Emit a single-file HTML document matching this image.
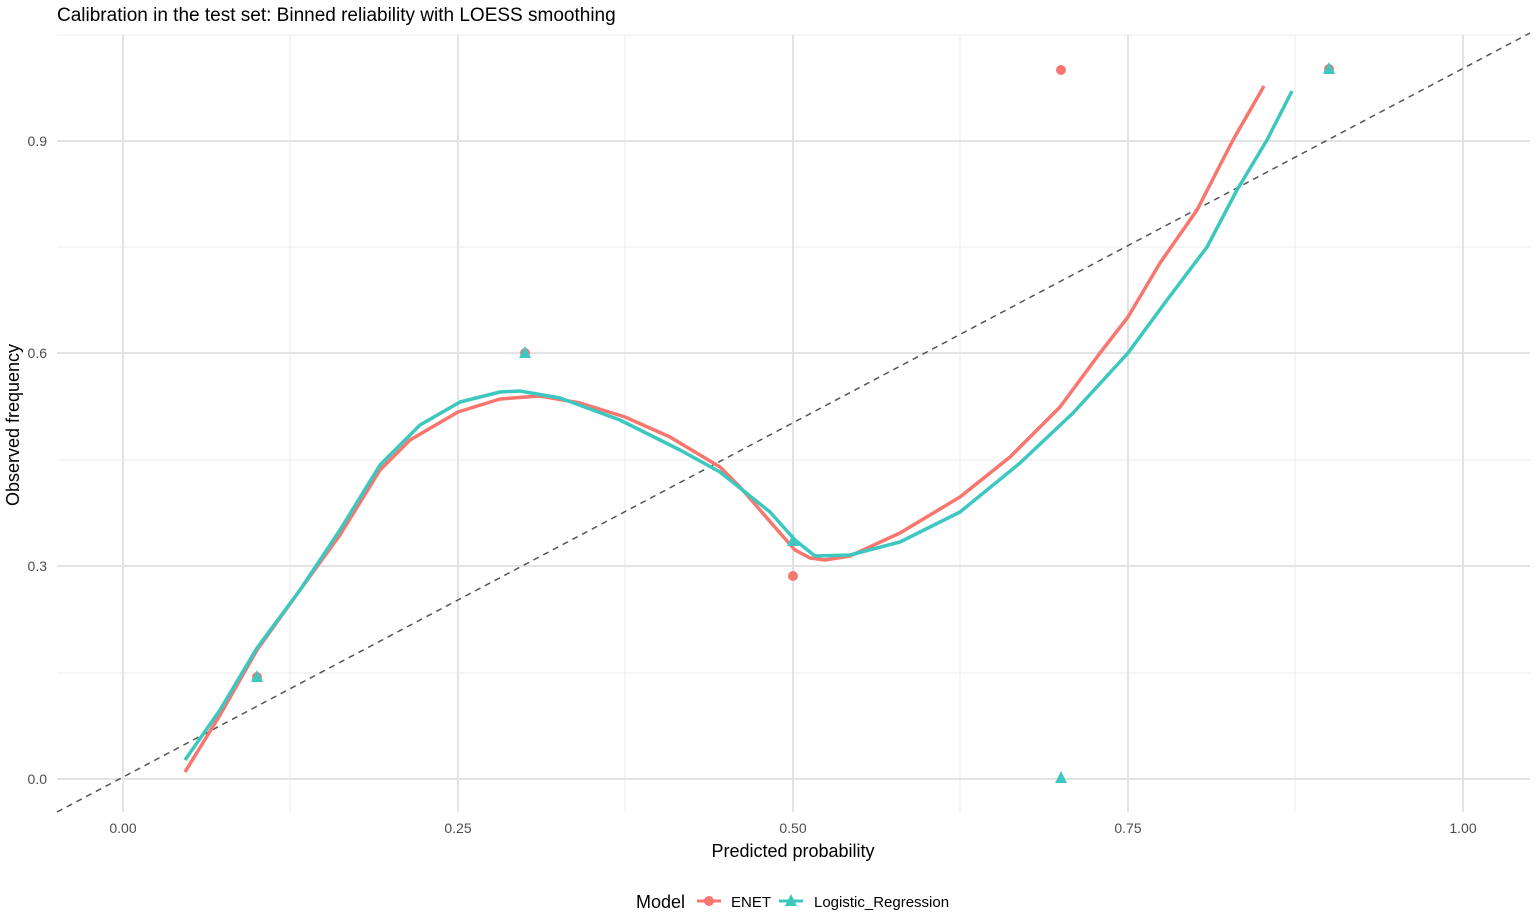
<!DOCTYPE html>
<html><head><meta charset="utf-8"><style>
body{margin:0;background:#fff;}
svg{display:block;font-family:"Liberation Sans",sans-serif;}
</style></head><body>
<svg width="1535" height="915" viewBox="0 0 1535 915">
<rect width="1535" height="915" fill="#fff"/>
<text x="57" y="21" font-size="19" fill="#000">Calibration in the test set: Binned reliability with LOESS smoothing</text>
<g stroke="#ebebeb" stroke-width="1">
<line x1="57" x2="1530" y1="673" y2="673"/><line x1="57" x2="1530" y1="460" y2="460"/><line x1="57" x2="1530" y1="247" y2="247"/><line x1="57" x2="1530" y1="35" y2="35"/>
<line x1="290" x2="290" y1="35" y2="812"/><line x1="625" x2="625" y1="35" y2="812"/><line x1="960" x2="960" y1="35" y2="812"/><line x1="1295" x2="1295" y1="35" y2="812"/>
</g>
<g stroke="#e3e3e3" stroke-width="2">
<line x1="57" x2="1530" y1="779" y2="779"/><line x1="57" x2="1530" y1="566" y2="566"/><line x1="57" x2="1530" y1="353" y2="353"/><line x1="57" x2="1530" y1="141" y2="141"/>
<line x1="123" x2="123" y1="35" y2="812"/><line x1="458" x2="458" y1="35" y2="812"/><line x1="793" x2="793" y1="35" y2="812"/><line x1="1128" x2="1128" y1="35" y2="812"/><line x1="1463" x2="1463" y1="35" y2="812"/>
</g>
<line x1="57" y1="812" x2="1530" y2="33" stroke="#555" stroke-width="1.5" stroke-dasharray="6,5"/>
<polyline fill="none" stroke="#F8766D" stroke-width="3.5" stroke-linejoin="round" points="185,772 220,715 257,650 300,590 340,535 380,470 410,440 458,412 500,399 540,396 580,403 625,417 670,437 700,455 720,467 740,487 760,510 780,533 795,550 810,558 825,560 850,556 900,533 960,497 1010,457 1060,407 1100,353 1128,317 1160,263 1197,210 1233,140 1264,86"/>
<polyline fill="none" stroke="#3CC8C0" stroke-width="3.5" stroke-linejoin="round" points="185,760 220,710 257,648 300,590 340,530 380,465 420,425 460,402 500,392 520,391 560,398 620,420 680,450 720,472 770,512 795,540 815,556 850,555 900,542 960,512 1020,463 1073,413 1128,353 1167,300 1207,247 1237,190 1267,140 1292,91"/>
<g fill="#F8766D"><circle cx="257" cy="677" r="5"/><circle cx="525" cy="353" r="5"/><circle cx="793" cy="576" r="5"/><circle cx="1061" cy="70" r="5"/><circle cx="1329" cy="69" r="5"/></g>
<g fill="#3CC8C0">
<polygon points="257,670 263,682 251,682"/><polygon points="525,346 531,358 519,358"/><polygon points="793,534 799,546 787,546"/><polygon points="1061,771 1067,783 1055,783"/><polygon points="1329,62 1335,74 1323,74"/>
</g>
<g font-size="14" fill="#4d4d4d" text-anchor="end">
<text x="47" y="784">0.0</text><text x="47" y="571">0.3</text><text x="47" y="358">0.6</text><text x="47" y="146">0.9</text>
</g>
<g font-size="14" fill="#4d4d4d" text-anchor="middle">
<text x="123" y="833">0.00</text><text x="458" y="833">0.25</text><text x="793" y="833">0.50</text><text x="1128" y="833">0.75</text><text x="1463" y="833">1.00</text>
</g>
<text x="793" y="857" font-size="18" text-anchor="middle">Predicted probability</text>
<text transform="translate(19,425) rotate(-90)" font-size="18" text-anchor="middle">Observed frequency</text>
<text x="636" y="908" font-size="18">Model</text>
<line x1="697" x2="721" y1="901" y2="901" stroke="#F8766D" stroke-width="3"/><circle cx="709" cy="901" r="5" fill="#F8766D"/>
<text x="731" y="907" font-size="15">ENET</text>
<line x1="779" x2="803" y1="901" y2="901" stroke="#3CC8C0" stroke-width="3"/><polygon points="791,894 797,906 785,906" fill="#3CC8C0"/>
<text x="814" y="907" font-size="15">Logistic_Regression</text>
</svg>
</body></html>
